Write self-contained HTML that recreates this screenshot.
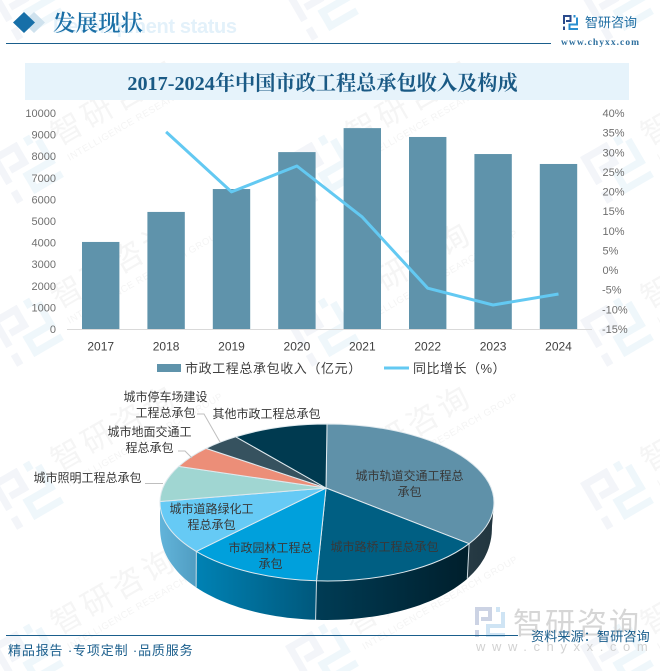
<!DOCTYPE html>
<html lang="zh">
<head>
<meta charset="utf-8">
<title>2017-2024年中国市政工程总承包收入及构成</title>
<style>
html,body{margin:0;padding:0;background:#fff;}
#page{position:relative;width:660px;height:671px;overflow:hidden;background:#fff;}
svg{position:absolute;left:0;top:0;display:block;}
.sans{font-family:"Liberation Sans","Noto Sans CJK SC",sans-serif;}
.serif{font-family:"Liberation Serif","Noto Serif CJK SC",serif;}
</style>
</head>
<body>
<div id="page">
<svg id="chart" width="660" height="671" viewBox="0 0 660 671" xmlns="http://www.w3.org/2000/svg">
  <defs>
    <symbol id="logo" viewBox="0 0 30 30" overflow="visible">
      <g style="fill:var(--a)">
        <rect x="0" y="0" width="17" height="4"/><rect x="13" y="0" width="4" height="14"/>
        <rect x="6" y="10" width="11" height="4"/><rect x="0" y="0" width="4" height="18"/>
        <rect x="0" y="23" width="4" height="7"/>
      </g>
      <g style="fill:var(--b)">
        <rect x="21" y="0" width="4" height="5"/><rect x="26" y="5" width="4" height="16"/>
        <rect x="11" y="17" width="19" height="4"/><rect x="11" y="17" width="4" height="13"/>
        <rect x="11" y="26" width="19" height="4"/>
      </g>
    </symbol>
  </defs>

  <g id="watermarks"></g>

  <g>
    <text x="53" y="33" class="sans" font-size="20" font-weight="700" fill="#e3f1fa" textLength="184">Development status</text>
    <path d="M34 12 L45 22.5 L34 33 L23 22.5 Z" fill="#cfe2ee"/>
    <path d="M24 12 L35 22.5 L24 33 L13 22.5 Z" fill="#166fa8"/>
    <text x="53" y="31" class="serif" font-size="22.5" font-weight="600" fill="#1a6fa6">发展现状</text>
    <line x1="6" x2="551" y1="43.5" y2="43.5" stroke="#1a5e8c" stroke-width="1"/>
    <use href="#logo" x="563" y="15" width="15" height="15" style="--a:#2a4a8c;--b:#2a8fd0"/>
    <text x="585" y="27" class="sans" font-size="13" fill="#1f6ea3">智研咨询</text>
    <text x="561" y="45" class="serif" font-size="9.5" font-weight="700" letter-spacing="1.05" fill="#2d6f9e">www.chyxx.com</text>
  </g>

  <rect x="25" y="63" width="604" height="37" fill="#e6f3fb"/>
  <text x="322.5" y="90" text-anchor="middle" class="serif" font-size="20.2" font-weight="700" fill="#1a5a85">2017-2024年中国市政工程总承包收入及构成</text>

  <g id="combo"></g>
  <g id="pie"></g>

  <g class="sans">
    <g>
      <rect x="157" y="364" width="24" height="8" fill="#5f93ab"/>
      <text x="185" y="373" font-size="13" letter-spacing="0.6" fill="#404040">市政工程总承包收入（亿元）</text>
    </g>
    <g>
      <line x1="384" x2="409" y1="368" y2="368" stroke="#63c9f2" stroke-width="3"/>
      <text x="413" y="373" font-size="13" letter-spacing="0.5" fill="#404040">同比增长（%）</text>
    </g>
  </g>

  <g>
    <use href="#logo" x="475" y="607" width="30" height="30" style="--a:#ccd3e4;--b:#cfe4f4"/>
    <text x="513" y="634" class="sans" font-size="30" letter-spacing="2" fill="#d6d6d6">智研咨询</text>
    <text x="476" y="651" class="sans" font-size="13" letter-spacing="6.6" fill="#d2d2d2">www.chyxx.com</text>
    <line x1="6" x2="518" y1="635.5" y2="635.5" stroke="#1a5e8c" stroke-width="1"/>
    <text x="531" y="641" class="sans" font-size="13.2" fill="#1a5e8c">资料来源：智研咨询</text>
    <text x="8" y="655" class="sans" font-size="13" letter-spacing="0.85" fill="#1a5e8c">精品报告 ·专项定制 ·品质服务</text>
  </g>
</svg>
</div>

<script>
const years = ['2017','2018','2019','2020','2021','2022','2023','2024'];
const revenue = [4030, 5420, 6480, 8190, 9300, 8890, 8100, 7640];
const growth = [null, 35.2, 19.9, 26.5, 13.5, -4.6, -8.9, -6.1];
const leftTicks = [0,1000,2000,3000,4000,5000,6000,7000,8000,9000,10000];
const rightTicks = [-15,-10,-5,0,5,10,15,20,25,30,35,40];
const pieShares = [33.8, 17.2, 13.3, 10.9, 7.4, 4.5, 3.7, 9.2];
const pieNames = ['rail-transit','road-bridge','landscaping','road-greening','lighting','surface-transit','parking','other'];

const pieColors = ['#5f91a9','#005f83','#00a0dc','#66caf5','#a0d6d2','#ec8e78','#36525f','#003a50'];
const sideFrom = ['#22363f','#003c55','#0082b4','#62b4da','#8fc0bc','#c77a68','#2b424d','#002e40'];
const sideTo   = ['#263a44','#001f2c','#00587c','#509dc2','#8fc0bc','#c77a68','#2b424d','#002e40'];

const NS = 'http://www.w3.org/2000/svg';
function mk(tag, attrs, parent){
  const e = document.createElementNS(NS, tag);
  for (const k in attrs) e.setAttribute(k, attrs[k]);
  parent.appendChild(e);
  return e;
}

/* watermarks */
const wm = document.getElementById('watermarks');
for (let col = 0; col < 3; col++) {
  for (let row = 0; row < 5; row++) {
    const g = mk('g', {transform:'translate(' + (27 + 295*col) + ',' + (4 + 163*row) + ') rotate(-30)'}, wm);
    
    
    mk('use', {href:'#logo', x:-30, y:-27, width:60, height:54, style:'--a:#f3f5f9;--b:#eff7fb'}, g);
    const t = mk('text', {x:38, y:-2, 'font-size':31, 'letter-spacing':4, fill:'#f5f5f5', 'font-family':'"Liberation Sans","Noto Sans CJK SC",sans-serif'}, g);
    t.textContent = '智研咨询';
    const s = mk('text', {x:40, y:16, 'font-size':9.5, 'letter-spacing':0.6, fill:'#f4f4f4', 'font-family':'"Liberation Sans",sans-serif'}, g);
    s.textContent = 'INTELLIGENCE RESEARCH GROUP';
  }
}

/* combo chart */
const combo = document.getElementById('combo');
const plotLeft = 68, plotRight = 591.2, plotBase = 329, plotTop = 113;
const band = (plotRight - plotLeft) / years.length;
const xPos = i => plotLeft + band * (i + 0.5);
const yLeft = v => plotBase - v / 10000 * (plotBase - plotTop);
const yRight = v => plotBase - (v + 15) / 55 * (plotBase - plotTop);
const FONT = '"Liberation Sans","Noto Sans CJK SC",sans-serif';

leftTicks.forEach(v => {
  const t = mk('text', {x:56, y:yLeft(v)+4, 'text-anchor':'end', 'font-size':11, fill:'#6f6f6f', 'font-family':FONT}, combo);
  
  
  t.textContent = v;
});
rightTicks.forEach(v => {
  const t = mk('text', {x:v < 0 ? 602 : 602.5, y:yRight(v)+4, 'font-size':11, fill:'#6f6f6f', 'font-family':FONT}, combo);
  
  
  t.textContent = v + '%';
});
revenue.forEach((v, i) => {
  const r = mk('rect', {x:xPos(i)-18.7, y:yLeft(v), width:37.4, height:plotBase-yLeft(v), fill:'#5f93ab'}, combo);
  
  
});
const axisLine = mk('line', {x1:67, x2:592, y1:plotBase+0.5, y2:plotBase+0.5, stroke:'#d9d9d9', 'stroke-width':1}, combo);


years.forEach((y, i) => {
  const t = mk('text', {x:xPos(i), y:350.5, 'text-anchor':'middle', 'font-size':12, fill:'#404040', 'font-family':FONT}, combo);
  
  
  t.textContent = y;
});
const linePts = growth.map((v, i) => v === null ? null : xPos(i).toFixed(1) + ',' + yRight(v).toFixed(1)).filter(Boolean).join(' ');
const growthLine = mk('polyline', {points:linePts, fill:'none', stroke:'#63c9f2', 'stroke-width':3, 'stroke-linejoin':'round'}, combo);



/* 3D pie */
const pie = document.getElementById('pie');
const defs = document.querySelector('#chart defs');
const total = pieShares.reduce((a, b) => a + b, 0);
const rad = d => d * Math.PI / 180;
const apex = {x:326, y:488};
const topPt = t => ({x:327 + 167 * Math.sin(rad(t)), y:502.5 - 78.5 * Math.cos(rad(t))});
const lowPt = t => {
  const c = Math.cos(rad(t));
  return {x:326 + 166 * Math.sin(rad(t)), y:526 + 94 * (c < 0 ? Math.pow(-c, 0.9) : -Math.pow(c, 0.9))};
};
const fmt = p => p.x.toFixed(1) + ' ' + p.y.toFixed(1);

let angle = 0;
const ranges = pieShares.map(v => {
  const a0 = angle;
  angle += v / total * 360;
  return [a0, angle];
});

/* side walls */
ranges.forEach((r, i) => {
  const a = Math.max(r[0], 90), b = Math.min(r[1], 270);
  if (b <= a) return;
  const gid = 'side-grad-' + i;
  const left = Math.min(topPt(a).x, topPt(b).x), right = Math.max(topPt(a).x, topPt(b).x);
  const grad = mk('linearGradient', {id:gid, gradientUnits:'userSpaceOnUse', x1:left, x2:right, y1:0, y2:0}, defs);
  mk('stop', {offset:0, 'stop-color': i === 0 ? sideTo[i] : sideFrom[i]}, grad);
  mk('stop', {offset:1, 'stop-color': i === 0 ? sideFrom[i] : sideTo[i]}, grad);
  let d = 'M' + fmt(topPt(a));
  for (let t = a; t < b; t += 2) d += 'L' + fmt(topPt(t));
  d += 'L' + fmt(topPt(b)) + 'L' + fmt(lowPt(b));
  for (let t = b; t > a; t -= 2) d += 'L' + fmt(lowPt(t));
  d += 'L' + fmt(lowPt(a)) + 'Z';
  const wall = mk('path', {d:d, fill:'url(#' + gid + ')'}, pie);
  
  
});
/* seams between walls */
ranges.forEach(r => {
  const t = r[1];
  if (t <= 90 || t >= 270) return;
  const p = topPt(t), q = lowPt(t);
  const seam = mk('line', {x1:p.x, y1:p.y, x2:q.x, y2:q.y, stroke:'#cfdde4', 'stroke-width':1}, pie);
  
  
});
/* top faces */
ranges.forEach((r, i) => {
  const p0 = topPt(r[0]), p1 = topPt(r[1]);
  const large = r[1] - r[0] > 180 ? 1 : 0;
  const d = 'M' + apex.x + ' ' + apex.y + 'L' + fmt(p0) + 'A167 78.5 0 ' + large + ' 1 ' + fmt(p1) + 'Z';
  const face = mk('path', {d:d, fill:pieColors[i], stroke:'#dfe9ee', 'stroke-width':1, 'stroke-linejoin':'round'}, pie);
  
  
});

/* leader lines */
[['M145 483.5H163'],['M178 451H185L192 458'],['M197 414H204L220 442']].forEach(l => {
  const p = mk('path', {d:l[0], fill:'none', stroke:'#bfbfbf', 'stroke-width':1}, pie);
  
  
});

/* slice labels */
[
  ['城市轨道交通工程总', 409.5, 480], ['承包', 409.5, 496],
  ['城市路桥工程总承包', 384.5, 551],
  ['市政园林工程总', 270.5, 552], ['承包', 270.5, 568],
  ['城市道路绿化工', 211.5, 513], ['程总承包', 211.5, 529],
  ['城市照明工程总承包', 87.5, 482],
  ['城市地面交通工', 149.5, 436], ['程总承包', 149.5, 452],
  ['城市停车场建设', 165.5, 401], ['工程总承包', 165.5, 417],
  ['其他市政工程总承包', 266.5, 418]
].forEach(l => {
  const t = mk('text', {x:l[1], y:l[2], 'text-anchor':'middle', 'font-size':12, fill:'#383838', 'font-family':FONT}, pie);
  
  
  t.textContent = l[0];
});
</script>
</body>
</html>
